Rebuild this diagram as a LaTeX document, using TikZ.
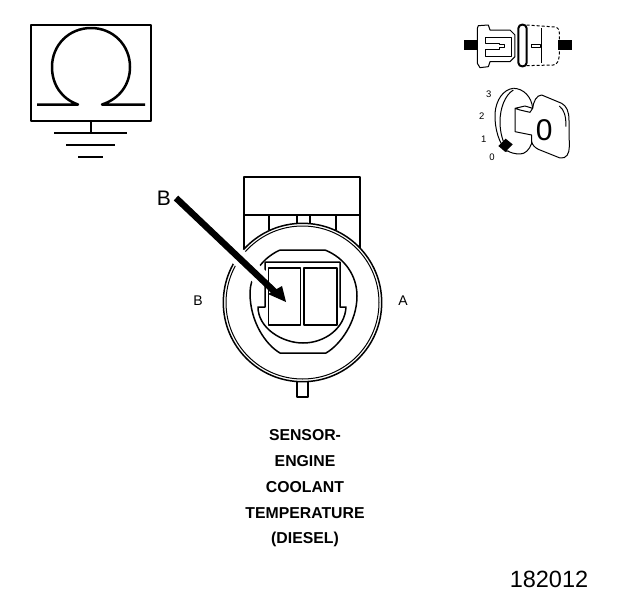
\documentclass[tikz,border=0pt]{standalone}
\usepackage{fontspec}
\setmainfont{Liberation Sans}
\begin{document}
\begin{tikzpicture}[x=1pt,y=-1pt,line join=round,
  heavy line/.style={line width=2.5pt},
  thick line/.style={line width=2pt},
  med line/.style={line width=1.5pt},
  thin line/.style={line width=1pt},
  caption/.style={font=\fontsize{15.8}{17}\selectfont\bfseries,anchor=center,inner sep=0pt},
  pin label/.style={font=\fontsize{14}{16}\selectfont,anchor=center,inner sep=0pt},
  key digit/.style={font=\fontsize{9.5}{11}\selectfont,anchor=center,inner sep=0pt}]
\useasboundingbox (0,0) rectangle (624,600);
% Omega symbol
\draw[thick line] (31,25) rectangle (150.5,121);
\draw[heavy line] (37,104.5) -- (78,104.5) .. controls (62,99) and (52,85) .. (52,67) .. controls (52,45) and (69,28) .. (91,28) .. controls (113,28) and (130,45) .. (130,67) .. controls (130,85) and (119,99) .. (102,104.5) -- (145,104.5);
\draw[med line] (91,121) -- (91,132);
\draw[thick line] (54,132.5) -- (127,132.5);
\draw[thick line] (66,145) -- (115,145);
\draw[thick line] (78,157) -- (103,157);
% Connector housing
\draw[thick line] (244,250) -- (244,177) -- (360,177) -- (360,250);
\draw[thick line] (244,215) -- (360,215);
\draw[thick line] (269,215) -- (269,230);
\draw[thick line] (336,215) -- (336,230);
\draw[thick line] (297,215) -- (297,223);
\draw[thick line] (310,215) -- (310,223);
\fill[white] (302.5,302.5) circle[radius=79];
\draw[med line] (302.5,302.5) circle[radius=79.2];
\draw[thin line] (302.5,302.5) circle[radius=76.5];
\draw[thick line] (297,382) -- (297,397) -- (308,397) -- (308,382);
% Socket
\draw[med line] (280,250) -- (325,250) .. controls (345,258) and (357,276) .. (357,296) .. controls (357,322) and (340,345) .. (326,353) -- (280,353) .. controls (266,345) and (250,322) .. (250,293) .. controls (250,280) and (258,260) .. (280,250);
\draw[med line] (265,262) -- (340,262) -- (340,307) -- (346,307) .. controls (345,328) and (325,343) .. (303,343) .. controls (282,343) and (258,328) .. (258,307) -- (265,307) -- (265,262);
% Arrow
\coordinate (arrowtail) at (176,198);
\coordinate (arrowtip) at (286,302);
\draw[white,line width=17pt] (arrowtail) -- (264,281);
\draw[med line] (268.5,268) rectangle (300.5,325);
\draw[med line] (303.8,268) rectangle (337,325);
\draw[line width=6.5pt] (arrowtail) -- (276,293);
\fill (arrowtip) -- (268,294) -- (282,286) -- cycle;
% Labels
\node[inner sep=0pt,font=\fontsize{21}{24}\selectfont] (bigb) at (164,198.5) {B};
\node[pin label] (pinb) at (198,301) {B};
\node[pin label] (pina) at (403,301) {A};
\node[caption] (c1) at (305,435) {SENSOR-};
\node[caption] (c2) at (305,461) {ENGINE};
\node[caption] (c3) at (305,487) {COOLANT};
\node[caption] (c4) at (305,513) {TEMPERATURE};
\node[caption] (c5) at (305,539) {(DIESEL)};
\node[inner sep=0pt,font=\fontsize{23.5}{26}\selectfont] (num) at (549,579) {182012};
% Switch icon
\begin{scope}[shift={(460,15)},x=0.3333pt,y=-0.3333pt]
\fill (12,75) rectangle (52,105);
\fill (295,75) rectangle (337,105);
\draw[thin line] (55,32) -- (85,30) -- (90,45) -- (150,45) -- (165,60) -- (165,125) -- (150,140) -- (90,140) -- (85,155) -- (60,158) -- (52,145) -- (52,40) -- cycle;
\draw[thin line] (75,68) -- (155,68) -- (155,125) -- (75,125) -- (75,105) -- (118,105) -- (118,98) -- (133,98) -- (133,90) -- (118,90) -- (118,85) -- (75,85) -- cycle;
\draw[line width=2pt] (175,40) .. controls (175,25) and (200,25) .. (200,40) -- (200,143) .. controls (200,158) and (175,158) .. (175,143) -- cycle;
\draw[thin line,densely dashed] (200,30) -- (285,36) .. controls (295,38) and (298,45) .. (298,55) -- (298,115) .. controls (298,135) and (292,150) .. (280,150) -- (200,152);
\draw[thin line] (245,40) -- (245,145);
\draw[thin line] (215,88) rectangle (242,97);
\end{scope}
% Key icon
\begin{scope}[shift={(470,80)},x=0.3333pt,y=-0.3333pt]
\draw[thin line] (130,25) .. controls (100,28) and (78,60) .. (75,100) .. controls (73,145) and (88,195) .. (112,215);
\draw[thin line] (130,25) .. controls (160,25) and (185,50) .. (188,85);
\draw[thin line] (130,30) .. controls (105,45) and (90,85) .. (90,125) .. controls (90,150) and (95,175) .. (105,195);
\draw[thin line] (135,85) -- (165,78) -- (188,85) -- (180,97) -- (150,90) -- (135,85) -- (135,155) -- (185,165) -- (185,190) .. controls (178,210) and (165,222) .. (150,222) .. controls (135,222) and (120,218) .. (112,212);
\draw[thin line] (188,85) .. controls (190,65) and (200,45) .. (215,45) -- (275,70) .. controls (290,78) and (297,95) .. (297,120) -- (298,200) .. controls (298,220) and (290,237) .. (270,234) -- (205,208) .. controls (195,203) and (187,195) .. (185,185);
\draw[thin line] (268,78) .. controls (282,90) and (288,105) .. (288,140);
\fill (85,198) -- (107,176) -- (128,193) -- (106,216) -- cycle;
\node[inner sep=0pt,font=\fontsize{30}{32}\selectfont] (keyo) at (223,152) {0};
\node[key digit] (k3) at (56,44) {3};
\node[key digit] (k2) at (35,108) {2};
\node[key digit] (k1) at (41,177) {1};
\node[key digit] (k0) at (66,231) {0};
\end{scope}
\end{tikzpicture}
\end{document}
